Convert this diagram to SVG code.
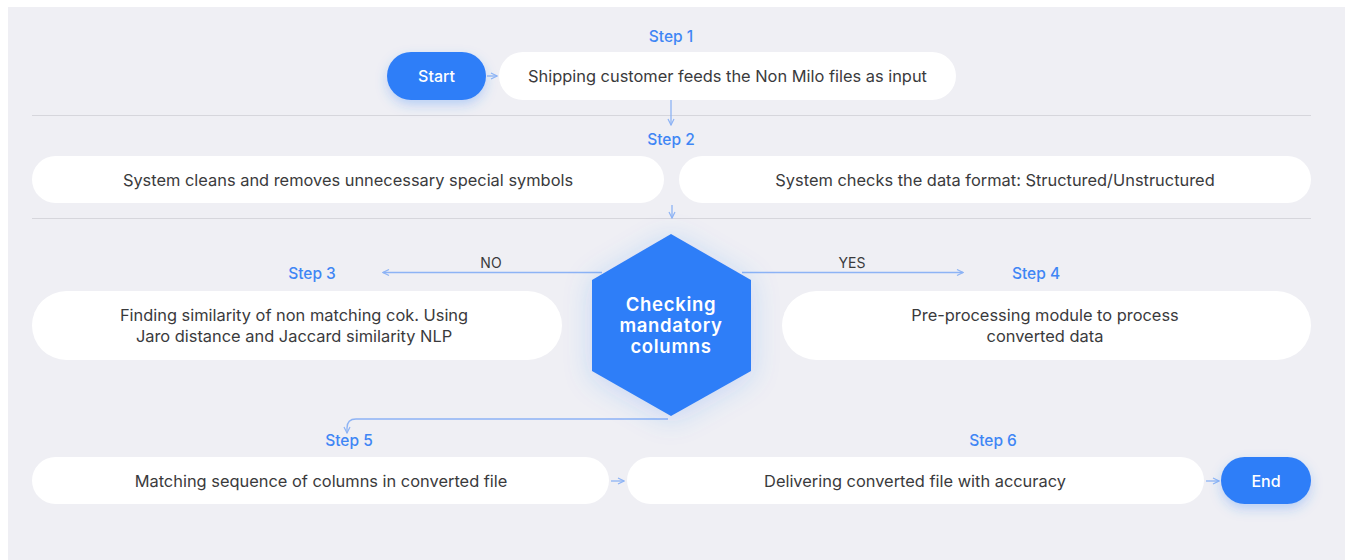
<svg xmlns="http://www.w3.org/2000/svg" width="1351" height="560" viewBox="0 0 1351 560">
  <defs>
    <style>
      .panel { fill: #efeff4; }
      .divider { stroke: #d6d6dc; stroke-width: 1.2; }
      .box { fill: #ffffff; }
      .pill { fill: #2f7ef8; }
      .txt { font-family: Inter, "Noto Sans", "Liberation Sans", sans-serif; font-size: 16.4px; fill: #3a3a3c; text-anchor: middle; }
      .step { font-family: Inter, "Noto Sans", "Liberation Sans", sans-serif; font-size: 15.5px; font-weight: 500; fill: #3f86f5; text-anchor: middle; }
      .pilltxt { font-family: Inter, "Noto Sans", "Liberation Sans", sans-serif; font-size: 16px; font-weight: 500; fill: #ffffff; text-anchor: middle; }
      .hextxt { font-family: Inter, "Noto Sans", "Liberation Sans", sans-serif; font-size: 18.5px; font-weight: 600; letter-spacing: 0.7px; fill: #ffffff; text-anchor: middle; }
      .lbl { font-family: Inter, "Noto Sans", "Liberation Sans", sans-serif; font-size: 14px; fill: #3a3a3c; text-anchor: middle; }
      .conn { fill: none; stroke: #8db3f5; stroke-width: 1.3; }
    </style>
    <marker id="arrow" viewBox="0 0 8 8" refX="7" refY="4" markerWidth="8" markerHeight="8" markerUnits="userSpaceOnUse" orient="auto">
      <path d="M1,1 L7,4 L1,7" fill="none" stroke="#8db3f5" stroke-width="1.2"/>
    </marker>
    <filter id="pillGlow" x="-40%" y="-60%" width="180%" height="240%">
      <feGaussianBlur in="SourceAlpha" stdDeviation="6"/>
      <feOffset dy="5" result="b"/>
      <feFlood flood-color="#2f7ef8" flood-opacity="0.28"/>
      <feComposite in2="b" operator="in"/>
      <feMerge><feMergeNode/><feMergeNode in="SourceGraphic"/></feMerge>
    </filter>
    <filter id="hexGlow" x="-50%" y="-50%" width="200%" height="200%">
      <feGaussianBlur in="SourceAlpha" stdDeviation="14"/>
      <feOffset dy="4" result="b"/>
      <feFlood flood-color="#2f7ef8" flood-opacity="0.22"/>
      <feComposite in2="b" operator="in"/>
      <feMerge><feMergeNode/><feMergeNode in="SourceGraphic"/></feMerge>
    </filter>
  </defs>

  <!-- background -->
  <rect width="1351" height="560" fill="#ffffff"/>
  <rect class="panel" x="8" y="7" width="1337" height="553"/>
  <line class="divider" x1="32" y1="115.5" x2="1311" y2="115.5"/>
  <line class="divider" x1="32" y1="218.5" x2="1311" y2="218.5"/>

  <!-- step labels -->
  <g id="step-labels">
    <text class="step" x="671" y="42">Step 1</text>
    <text class="step" x="671" y="145">Step 2</text>
    <text class="step" x="312" y="279">Step 3</text>
    <text class="step" x="1036" y="279">Step 4</text>
    <text class="step" x="349" y="446">Step 5</text>
    <text class="step" x="993" y="446">Step 6</text>
  </g>

  <!-- connectors -->
  <g id="connectors">
    <line class="conn" x1="487" y1="76" x2="497" y2="76" marker-end="url(#arrow)"/>
    <line class="conn" x1="671" y1="100" x2="671" y2="125" marker-end="url(#arrow)"/>
    <line class="conn" x1="672" y1="205" x2="672" y2="218" marker-end="url(#arrow)"/>
    <line class="conn" x1="602" y1="272.5" x2="383" y2="272.5" marker-end="url(#arrow)"/>
    <line class="conn" x1="742" y1="272.5" x2="963" y2="272.5" marker-end="url(#arrow)"/>
    <path class="conn" d="M668,419 L356,419 Q347,419 347,428 L347,433" marker-end="url(#arrow)"/>
    <line class="conn" x1="611" y1="481" x2="624" y2="481" marker-end="url(#arrow)"/>
    <line class="conn" x1="1206" y1="481" x2="1219" y2="481" marker-end="url(#arrow)"/>
    <text class="lbl" x="491" y="268">NO</text>
    <text class="lbl" x="852" y="268">YES</text>
  </g>

  <!-- nodes -->
  <g id="start">
    <rect class="pill" x="387" y="52" width="99" height="48" rx="24" filter="url(#pillGlow)"/>
    <text class="pilltxt" x="436.5" y="81.5">Start</text>
  </g>
  <g id="step1-input">
    <rect class="box" x="499" y="52" width="457" height="48" rx="24"/>
    <text class="txt" x="727.5" y="82">Shipping customer feeds the Non Milo files as input</text>
  </g>
  <g id="step2-clean">
    <rect class="box" x="32" y="156" width="632" height="47" rx="23.5"/>
    <text class="txt" x="348" y="185.5">System cleans and removes unnecessary special symbols</text>
  </g>
  <g id="step2-format">
    <rect class="box" x="679" y="156" width="632" height="47" rx="23.5"/>
    <text class="txt" x="995" y="185.5">System checks the data format: Structured/Unstructured</text>
  </g>
  <g id="decision">
    <polygon class="pill" points="671,234 751,280 751,371 671,416 592,371 592,280" filter="url(#hexGlow)"/>
    <text class="hextxt" x="671" y="311">Checking</text>
    <text class="hextxt" x="671" y="332">mandatory</text>
    <text class="hextxt" x="671" y="353">columns</text>
  </g>
  <g id="step3-similarity">
    <rect class="box" x="32" y="291" width="530" height="69" rx="34.5"/>
    <text class="txt" x="294" y="321">Finding similarity of non matching cok. Using</text>
    <text class="txt" x="294" y="341.5">Jaro distance and Jaccard similarity NLP</text>
  </g>
  <g id="step4-preprocess">
    <rect class="box" x="782" y="291" width="529" height="69" rx="34.5"/>
    <text class="txt" x="1045" y="321">Pre-processing module to process</text>
    <text class="txt" x="1045" y="341.5">converted data</text>
  </g>
  <g id="step5-sequence">
    <rect class="box" x="32" y="457" width="577" height="47" rx="23.5"/>
    <text class="txt" x="321" y="486.5">Matching sequence of columns in converted file</text>
  </g>
  <g id="step6-deliver">
    <rect class="box" x="627" y="457" width="577" height="47" rx="23.5"/>
    <text class="txt" x="915" y="486.5">Delivering converted file with accuracy</text>
  </g>
  <g id="end">
    <rect class="pill" x="1221" y="457" width="90" height="47" rx="23.5" filter="url(#pillGlow)"/>
    <text class="pilltxt" x="1266" y="486.5">End</text>
  </g>
</svg>
